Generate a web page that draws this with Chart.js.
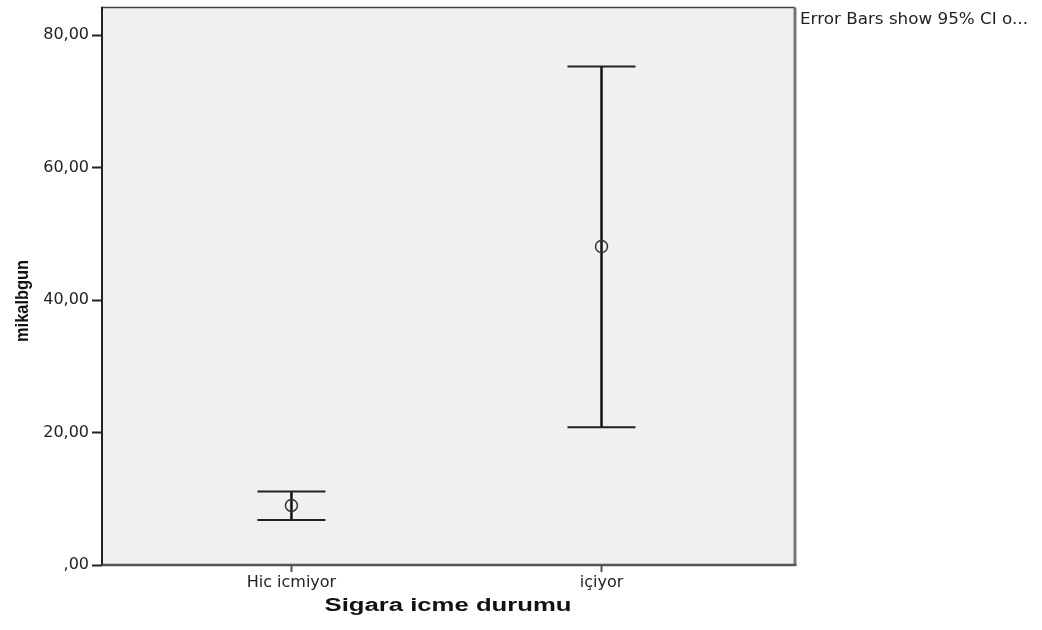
<!DOCTYPE html>
<html>
<head>
<meta charset="utf-8">
<script src="https://cdn.jsdelivr.net/npm/chart.js@4/dist/chart.umd.min.js"></script>
<style>
  html, body { margin: 0; padding: 0; background: #fff; }
  #wrap { width: 1042px; height: 630px; }
</style>
</head>
<body>
<div id="wrap"><canvas id="errChart" width="1042" height="630"></canvas></div>
<script>
// data
const categories = ["Hic icmiyor", "içiyor"];
const means = [9.0, 48.1];
const lowerCI = [6.8, 20.8];
const upperCI = [11.1, 75.3];
const yTicks = [0, 20, 40, 60, 80];
const yTickLabels = [",00", "20,00", "40,00", "60,00", "80,00"];

const FONT = "'Liberation Sans', Arial, sans-serif";
const TICKFONT = "'DejaVu Sans', sans-serif";

// draws text squeezed/stretched to a given width (the reference font is wide)
function fitText(c, text, x, y, width, rotate, align) {
  const w = c.measureText(text).width;
  c.save();
  c.translate(x, y);
  if (rotate) c.rotate(-Math.PI / 2);
  c.scale(width / w, 1);
  c.textAlign = align || "center";
  c.textBaseline = "middle";
  c.fillText(text, 0, 0);
  c.restore();
}

// background, frame, titles and footnote
const frame = {
  id: "frame",
  beforeDraw(chart) {
    const a = chart.chartArea, c = chart.ctx;
    c.save();
    c.fillStyle = "#f0f0f0";
    c.fillRect(a.left, a.top, a.right - a.left, a.bottom - a.top);
    c.restore();
  },
  afterDraw(chart) {
    const a = chart.chartArea, c = chart.ctx;
    c.save();
    c.strokeStyle = "#444";
    c.lineWidth = 1.5;
    c.beginPath();
    c.moveTo(a.left, a.top);
    c.lineTo(a.right, a.top);
    c.stroke();
    c.strokeStyle = "#777";
    c.lineWidth = 3;
    c.beginPath();
    c.moveTo(a.right, a.top);
    c.lineTo(a.right, a.bottom);
    c.stroke();
    c.strokeStyle = "#555";
    c.lineWidth = 2.5;
    c.beginPath();
    c.moveTo(a.left, a.bottom);
    c.lineTo(a.right + 1.5, a.bottom);
    c.stroke();
    c.strokeStyle = "#222";
    c.lineWidth = 2;
    c.beginPath();
    c.moveTo(a.left, a.top - 0.75);
    c.lineTo(a.left, a.bottom);
    c.stroke();

    c.fillStyle = "#111";
    c.font = "bold 19px " + FONT;
    fitText(c, "mikalbgun", 23, 301, 82, true);
    c.font = "bold 18px " + FONT;
    fitText(c, "Sigara icme durumu", 448, 606, 247, false);

    c.fillStyle = "#222";
    c.font = "16px " + TICKFONT;
    fitText(c, "Error Bars show 95% CI o...", a.right + 5, 20, 228, false, "left");
    c.restore();
  }
};

// 95% CI whiskers, drawn under the mean markers
const errorBars = {
  id: "errorBars",
  beforeDatasetsDraw(chart) {
    const xs = chart.scales.x, ys = chart.scales.y, c = chart.ctx;
    c.save();
    categories.forEach(function (cat, i) {
      const x = xs.getPixelForValue(i);
      const yl = ys.getPixelForValue(lowerCI[i]);
      const yu = ys.getPixelForValue(upperCI[i]);
      c.strokeStyle = "#111";
      c.lineWidth = 2.5;
      c.beginPath();
      c.moveTo(x, yl);
      c.lineTo(x, yu);
      c.stroke();
      c.strokeStyle = "#222";
      c.lineWidth = 2;
      c.beginPath();
      c.moveTo(x - 34, yu);
      c.lineTo(x + 34, yu);
      c.moveTo(x - 34, yl);
      c.lineTo(x + 34, yl);
      c.stroke();
    });
    c.restore();
  }
};

const ctx = document.getElementById("errChart").getContext("2d");
const errChart = new Chart(ctx, {
  type: "scatter",
  data: {
    datasets: [
      {
        label: "Mean",
        data: means.map(function (m, i) { return { x: i, y: m }; }),
        pointStyle: "circle",
        pointRadius: 6,
        pointBorderWidth: 1.5,
        pointBorderColor: "#333",
        pointBackgroundColor: "rgba(0,0,0,0)",
        showLine: false,
      },
    ],
  },
  options: {
    responsive: false,
    animation: false,
    events: [],
    layout: { padding: { left: 0, right: 247, top: 7, bottom: 0 } },
    plugins: {
      legend: { display: false },
      tooltip: { enabled: false },
    },
    scales: {
      x: {
        type: "linear",
        min: -0.611,
        max: 1.624,
        afterBuildTicks(scale) {
          scale.ticks = categories.map(function (c, i) { return { value: i }; });
        },
        afterFit(scale) {
          scale.height = 65;
          scale.paddingLeft = 0;
          scale.paddingRight = 0;
        },
        ticks: {
          color: "#222",
          font: { family: TICKFONT, size: 16 },
          padding: 1,
          maxRotation: 0,
          callback(v) { return categories[v]; },
        },
        grid: { display: true, drawOnChartArea: false, drawTicks: true, tickLength: 7, tickWidth: 2, tickColor: "#555" },
        border: { display: false },
      },
      y: {
        min: 0,
        max: 84.2,
        afterBuildTicks(scale) {
          scale.ticks = yTicks.map(function (v) { return { value: v }; });
        },
        afterFit(scale) {
          scale.width = 102;
          scale.paddingTop = 0;
          scale.paddingBottom = 0;
        },
        ticks: {
          color: "#222",
          font: { family: TICKFONT, size: 16 },
          padding: 3,
          callback(v) { return yTickLabels[yTicks.indexOf(v)]; },
        },
        grid: { display: true, drawOnChartArea: false, drawTicks: true, tickLength: 10, tickWidth: 2, tickColor: "#222" },
        border: { display: false },
      },
    },
  },
  plugins: [frame, errorBars],
});
</script>
</body>
</html>
